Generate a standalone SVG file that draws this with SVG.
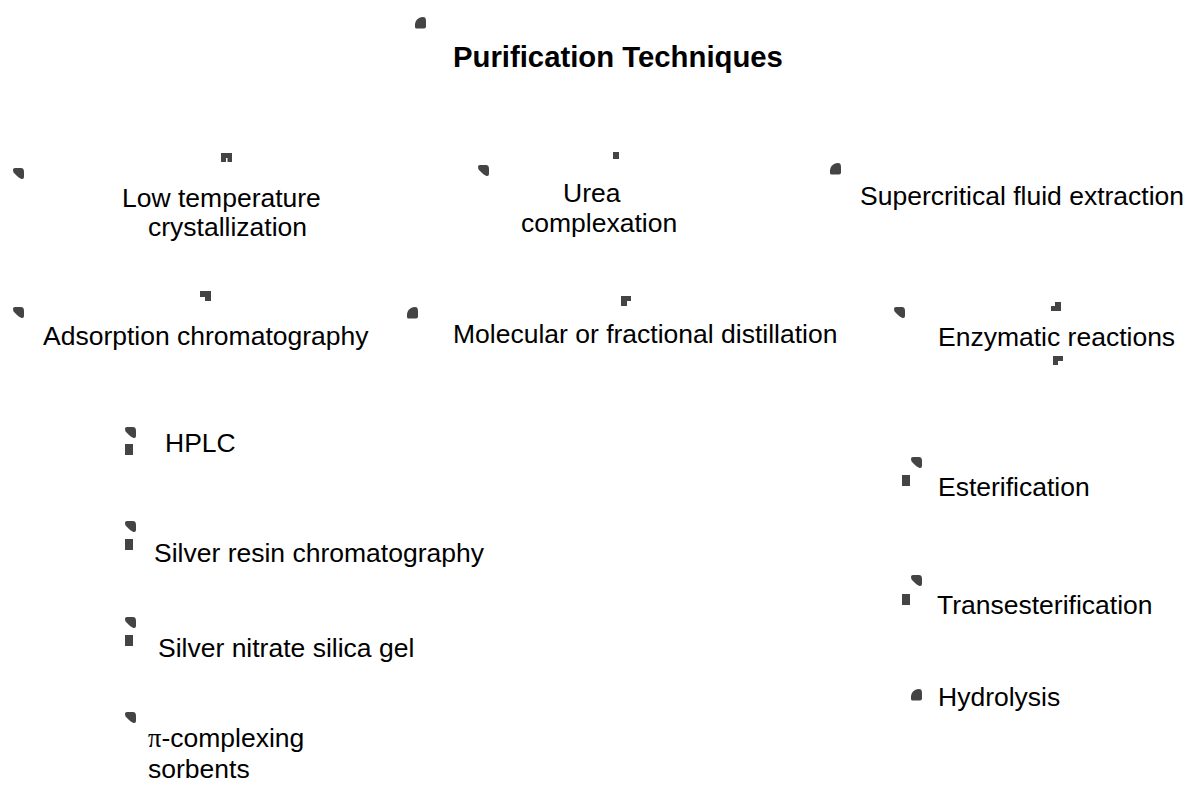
<svg xmlns="http://www.w3.org/2000/svg" width="1190" height="785" viewBox="0 0 1190 785">
<style>
.t{font-family:"Liberation Sans",Arial,sans-serif;font-size:26.5px;fill:#000}
.h{font-family:"Liberation Sans",Arial,sans-serif;font-size:29.3px;font-weight:bold;fill:#000}
.m{fill:#444}
</style>
<defs>
<path id="ld" d="M0,1.5 Q0,0 2,0 L8,0 Q11,0 11,4 L11,9 Q11,11.5 8.5,11 Q6,10 4,8 L1,5 Q0,4 0,1.5 Z"/>
<path id="lu" d="M0,10 L0,7 Q0.5,3 4,1 Q7,-0.5 9.5,0.2 Q11,1 11,4 L11,9.5 Q11,11.5 9,11.5 L1.5,11.5 Q0,11.5 0,10 Z"/>
</defs>
<rect width="1190" height="785" fill="#fff"/>
<g id="marks" class="m">
<use href="#lu" x="415" y="17"/>
<use href="#ld" x="13" y="168"/>
<path d="M221,153 H232 V162 H227.5 V158 H226 V162 H221 Z"/>
<use href="#ld" x="478" y="165"/>
<rect x="613" y="152" width="6" height="7"/>
<use href="#lu" x="830" y="163"/>
<use href="#ld" x="13" y="307"/>
<path d="M200,291 H211 V301 H205 V297 H200 Z"/>
<use href="#lu" x="407" y="307"/>
<path d="M621,296 H631 V301 H627 V306 H621 Z"/>
<use href="#ld" x="894" y="307"/>
<path d="M1055,302 H1061 V311 H1051 V306 H1055 Z"/>
<path d="M1053,356 H1063 V361 H1058 V365 H1053 Z"/>
<use href="#ld" x="125" y="427"/>
<rect x="125" y="444" width="8" height="11"/>
<use href="#ld" x="125" y="521"/>
<rect x="125" y="539" width="8" height="11"/>
<use href="#ld" x="125" y="617"/>
<rect x="125" y="635" width="8" height="11"/>
<use href="#ld" x="125" y="712"/>
<use href="#ld" x="911" y="457"/>
<rect x="902" y="475" width="8" height="11"/>
<use href="#ld" x="911" y="575"/>
<rect x="902" y="594" width="8" height="11"/>
<use href="#lu" x="911" y="689"/>
</g>
<g id="title"><text class="h" x="453" y="67">Purification Techniques</text></g>
<g id="n-low"><text class="t" x="122" y="207">Low temperature</text><text class="t" x="148" y="236">crystallization</text></g>
<g id="n-urea"><text class="t" x="563" y="202">Urea</text><text class="t" x="521" y="232">complexation</text></g>
<g id="n-sfe"><text class="t" x="860" y="205">Supercritical fluid extraction</text></g>
<g id="n-ads"><text class="t" x="43" y="345">Adsorption chromatography</text></g>
<g id="n-mol"><text class="t" x="453" y="343">Molecular or fractional distillation</text></g>
<g id="n-enz"><text class="t" x="938" y="346">Enzymatic reactions</text></g>
<g id="n-hplc"><text class="t" x="165" y="452">HPLC</text></g>
<g id="n-silres"><text class="t" x="154" y="562">Silver resin chromatography</text></g>
<g id="n-silnit"><text class="t" x="158" y="657">Silver nitrate silica gel</text></g>
<g id="n-pi"><text class="t" x="148" y="747"><tspan font-family="'Liberation Serif',serif">π</tspan>-complexing</text><text class="t" x="148" y="778">sorbents</text></g>
<g id="n-est"><text class="t" x="938" y="496">Esterification</text></g>
<g id="n-trans"><text class="t" x="937" y="614">Transesterification</text></g>
<g id="n-hyd"><text class="t" x="938" y="706">Hydrolysis</text></g>
</svg>
